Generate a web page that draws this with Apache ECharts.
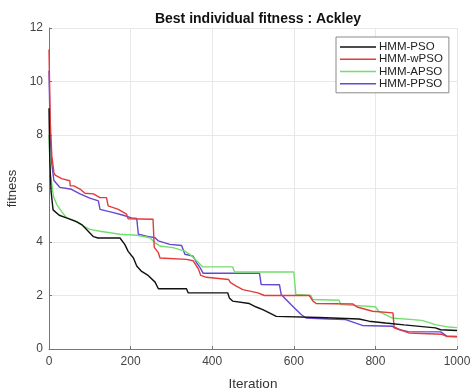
<!DOCTYPE html>
<html>
<head>
<meta charset="utf-8">
<script src="https://cdn.jsdelivr.net/npm/echarts@6/dist/echarts.min.js"></script>
<style>
  html, body { margin: 0; padding: 0; background: #fff; }
  #chart { width: 472px; height: 392px; }
</style>
</head>
<body>
<div id="chart"></div>
<script>
// Best-so-far fitness per iteration, [iteration, fitness]
var hmmPso = [
  [0, 9.0], [2, 7.0], [5, 5.9], [10, 5.2], [25, 5.0], [43, 4.9], [68, 4.75], [80, 4.65],
  [92, 4.47], [109, 4.2], [120, 4.15], [174, 4.15], [186, 3.9], [194, 3.65], [207, 3.4],
  [215, 3.1], [227, 2.9], [243, 2.75], [260, 2.5], [268, 2.25], [337, 2.25], [341, 2.1],
  [438, 2.1], [442, 1.91], [450, 1.79], [491, 1.7], [508, 1.57], [524, 1.47], [540, 1.35],
  [557, 1.22], [662, 1.18], [760, 1.12], [784, 1.04], [825, 0.97], [870, 0.9], [947, 0.79],
  [960, 0.72], [1000, 0.69]
];
var hmmWPso = [
  [0, 11.2], [3, 8.5], [7, 7.2], [12, 6.6], [15, 6.5], [31, 6.37], [51, 6.29], [52, 6.1],
  [61, 6.1], [76, 5.98], [88, 5.82], [109, 5.8], [125, 5.66], [141, 5.66], [145, 5.35],
  [170, 5.22], [190, 5.04], [194, 4.87], [255, 4.85], [258, 3.8], [268, 3.6], [272, 3.4],
  [337, 3.35], [353, 3.3], [366, 3.0], [372, 2.75], [386, 2.68], [440, 2.6], [445, 2.48],
  [459, 2.35], [475, 2.22], [512, 2.1], [528, 2.0], [638, 2.0], [647, 1.79], [655, 1.7],
  [745, 1.68], [755, 1.57], [793, 1.41], [843, 1.35], [846, 0.79], [882, 0.6], [963, 0.55],
  [975, 0.47], [1000, 0.47]
];
var hmmAPso = [
  [0, 8.0], [3, 6.6], [11, 5.7], [19, 5.4], [28, 5.2], [43, 4.9], [64, 4.8], [84, 4.6],
  [100, 4.47], [125, 4.4], [174, 4.29], [215, 4.25], [247, 4.16], [260, 3.97], [272, 3.85],
  [304, 3.79], [333, 3.66], [345, 3.54], [365, 3.25], [377, 3.07], [450, 3.07], [455, 2.88],
  [600, 2.88], [605, 2.04], [642, 2.0], [646, 1.85], [711, 1.82], [715, 1.66], [800, 1.58],
  [808, 1.41], [841, 1.16], [914, 1.07], [947, 0.91], [980, 0.82], [1000, 0.8]
];
var hmmPPso = [
  [0, 10.4], [3, 8.0], [7, 6.9], [12, 6.3], [27, 6.04], [55, 5.97], [76, 5.8], [100, 5.64],
  [121, 5.54], [125, 5.22], [158, 5.1], [182, 5.0], [202, 4.9], [215, 4.88], [219, 4.29],
  [239, 4.22], [260, 4.16], [268, 4.04], [296, 3.91], [325, 3.87], [333, 3.54], [353, 3.47],
  [362, 3.22], [370, 3.05], [378, 2.83], [516, 2.83], [520, 2.41], [565, 2.4], [569, 2.04],
  [581, 1.85], [593, 1.66], [606, 1.47], [618, 1.29], [630, 1.16], [686, 1.12], [727, 1.1],
  [768, 0.88], [841, 0.85], [860, 0.72], [880, 0.65], [960, 0.64], [975, 0.48], [1000, 0.46]
];

var seriesNames = ['HMM-PSO', 'HMM-wPSO', 'HMM-APSO', 'HMM-PPSO'];
var seriesData = [hmmPso, hmmWPso, hmmAPso, hmmPPso];
var seriesColors = ['#111111', '#e23b3b', '#72e06c', '#6646d2'];

var font = 'Liberation Sans, Arial, sans-serif';
var chart = echarts.init(document.getElementById('chart'));

chart.setOption({
  animation: false,
  backgroundColor: '#ffffff',
  textStyle: { fontFamily: font },
  title: {
    text: 'Best individual fitness : Ackley',
    left: 253,
    textAlign: 'center',
    top: 7,
    textStyle: { fontSize: 14, fontWeight: 'bold', color: '#111', fontFamily: font }
  },
  legend: {
    orient: 'vertical',
    left: 336,
    top: 37,
    padding: [4, 6, 3, 4],
    itemGap: 0,
    itemWidth: 36,
    itemHeight: 1.5,
    icon: 'rect',
    borderColor: '#8a8a8a',
    borderWidth: 1,
    borderRadius: 0,
    backgroundColor: '#ffffff',
    textStyle: { fontSize: 11.5, color: '#222', fontFamily: font, lineHeight: 12.2, padding: [0, 0, 0, -2] },
    data: seriesNames
  },
  grid: { left: 49, right: 15, top: 28, bottom: 43, outerBoundsMode: 'none', containLabel: false },
  xAxis: {
    type: 'value',
    min: 0,
    max: 1000,
    interval: 200,
    name: 'Iteration',
    nameLocation: 'middle',
    nameGap: 28,
    nameTextStyle: { fontSize: 13.5, color: '#333' },
    axisLine: { lineStyle: { color: '#777', width: 1 } },
    axisTick: { inside: true, length: 3, lineStyle: { color: '#777' } },
    axisLabel: { fontSize: 12, color: '#444', margin: 7, formatter: function (v) { return String(v); } },
    splitLine: { show: true, lineStyle: { color: '#e8e8e8', width: 1 } }
  },
  yAxis: {
    type: 'value',
    min: 0,
    max: 12,
    interval: 2,
    name: 'fitness',
    nameLocation: 'middle',
    nameGap: 20,
    nameTextStyle: { fontSize: 13, color: '#333' },
    axisLine: { show: true, lineStyle: { color: '#777', width: 1 } },
    axisTick: { show: true, inside: true, length: 3, lineStyle: { color: '#777' } },
    axisLabel: { fontSize: 12, color: '#444', margin: 6 },
    splitLine: { show: true, lineStyle: { color: '#e8e8e8', width: 1 } }
  },
  series: seriesNames.map(function (name, i) {
    return {
      name: name,
      type: 'line',
      data: seriesData[i],
      symbol: 'none',
      smooth: false,
      color: seriesColors[i],
      lineStyle: { width: 1.4, color: seriesColors[i] },
      z: 10 - i
    };
  })
});
</script>
</body>
</html>
